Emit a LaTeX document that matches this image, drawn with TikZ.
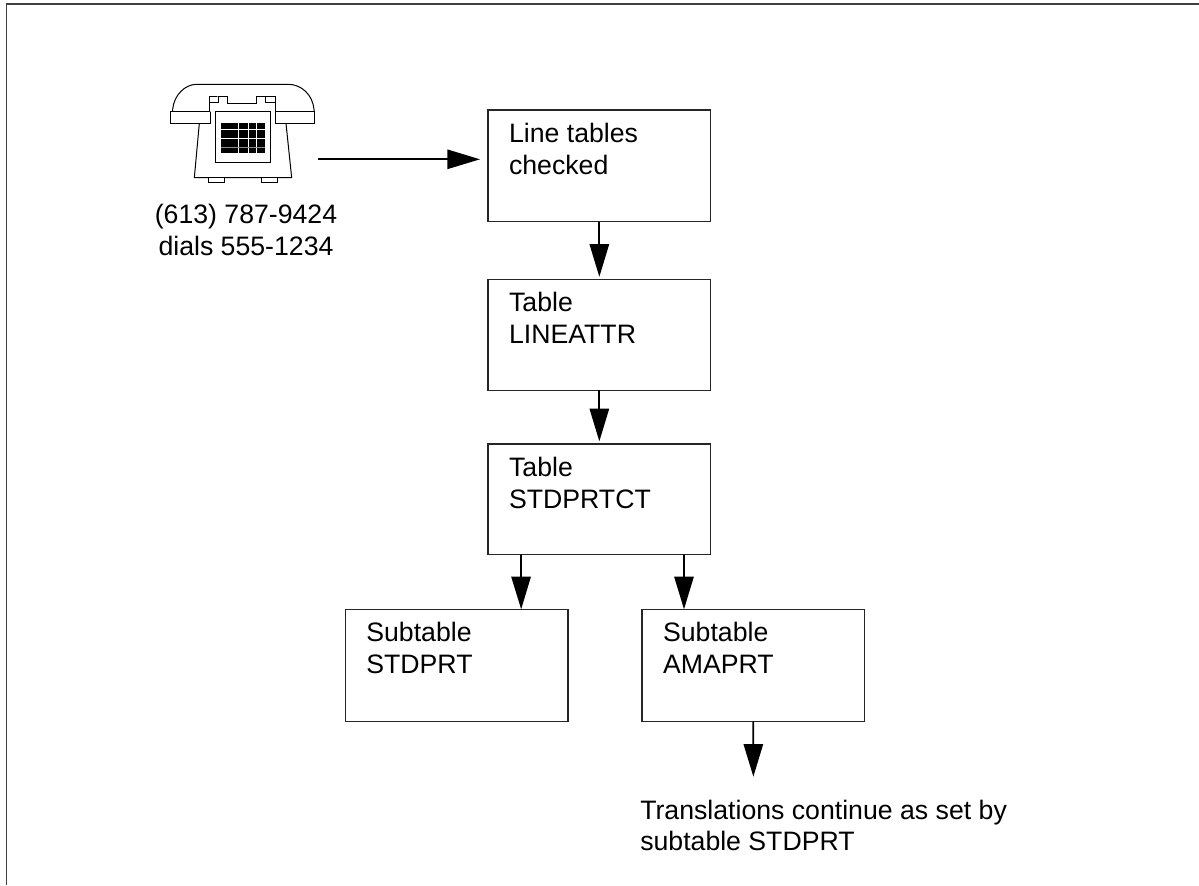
\documentclass[tikz,border=0pt]{standalone}
\usepackage{fontspec}
\setmainfont{Liberation Sans}
\usetikzlibrary{arrows.meta}
\newcommand{\tbl}[3]{\parbox[t][#2pt][t]{#1pt}{\hspace*{15.8pt}\rule{0pt}{24.3pt}#3}}
\tikzset{
  tblbox/.style={draw=black!85,line width=0.8pt,inner sep=0pt,outer sep=0pt,anchor=north west,
    font=\fontsize{20}{23.7}\selectfont},
  arr/.style={draw=black,line width=1.3pt,-{Triangle[length=24.5pt,width=14.5pt]}},
  txt/.style={inner sep=0pt,font=\fontsize{20}{23.7}\selectfont},
  ph/.style={line width=0.75pt,draw=black,fill=white,line join=miter},
  framel/.style={line width=1.1pt,draw=black!75}
}
\begin{document}
\begin{tikzpicture}[x=0.75pt,y=-0.75pt]
\useasboundingbox (0,0) rectangle (1199,885);
% frame
\coordinate (ftl) at (6.5,4);
\coordinate (ftr) at (1199,4);
\coordinate (fbl) at (6.5,885);
\draw[framel] (ftr) -- (ftl) -- (fbl);
% boxes
\node[tblbox] (b1) at (488,110) {\tbl{167}{83.8}{Line tables\\\hspace*{15.8pt}checked}};
\node[tblbox] (b2) at (488,279.5) {\tbl{167}{83}{Table\\\hspace*{15.8pt}LINEATTR}};
\node[tblbox] (b3) at (488,444) {\tbl{167}{83}{Table\\\hspace*{15.8pt}STDPRTCT}};
\node[tblbox] (s1) at (345.3,609.3) {\tbl{167}{84.3}{Subtable\\\hspace*{15.8pt}STDPRT}};
\node[tblbox] (s2) at (642,609.3) {\tbl{167}{84.3}{Subtable\\\hspace*{15.8pt}AMAPRT}};
% phone
\begin{scope}[shift={(150,70)},x=0.25pt,y=-0.25pt]
  \draw[ph,fill=none] (68,125) -- (68,118) .. controls (72,75) and (105,43) .. (140,43)
     -- (415,43) .. controls (455,43) and (488,75) .. (492,118) -- (492,125);
  \draw[ph] (148,160) -- (133,323) -- (425,323) -- (408,160);
  \draw[ph] (175,323) rectangle (222,336);
  \draw[ph] (334,323) rectangle (381,336);
  \draw[ph] (62,125) rectangle (181,160);
  \draw[ph] (375,125) rectangle (492,160);
  \draw[ph] (178,125) -- (178,78) -- (377,78) -- (377,125) (377,97) -- (347,97) -- (347,78);
  \draw[ph] (178,97) -- (205,97) -- (205,78);
  \draw[ph] (233,78) -- (233,100) -- (320,100) -- (320,78);
  \draw[ph] (196,123) rectangle (362,277);
  \fill[black] (212,158) rectangle (345,250);
  \draw[white,line width=0.75pt] (212,178) -- (345,178) (212,205) -- (345,205)
     (265,158) -- (265,250) (295,158) -- (295,250) (320,158) -- (320,250);
  \draw[black!45,line width=0.75pt] (212,233) -- (345,233);
\end{scope}
\node[txt,align=center,anchor=base] (ph1) at (246,255) {(613) 787-9424\\dials 555-1234};
% connectors
\coordinate (pout) at (318,159.3);
\coordinate (pin) at (480,159.3);
\coordinate (fin) at (753.35,776.7);
\draw[arr] (pout) -- (pin);
\draw[arr] (b1.south) -- ([yshift=2pt]b2.north);
\draw[arr] (b2.south) -- ([yshift=2pt]b3.north);
\draw[arr] ([xshift=-58.76pt]b3.south) -- ([xshift=48.4pt]s1.north);
\draw[arr] ([xshift=63.49pt]b3.south) -- ([xshift=-52pt]s2.north);
\draw[arr] (s2.south) -- (fin);
\node[txt,align=left,anchor=base west] (tr) at (640,850.7) {Translations continue as set by\\subtable STDPRT};
\end{tikzpicture}
\end{document}
